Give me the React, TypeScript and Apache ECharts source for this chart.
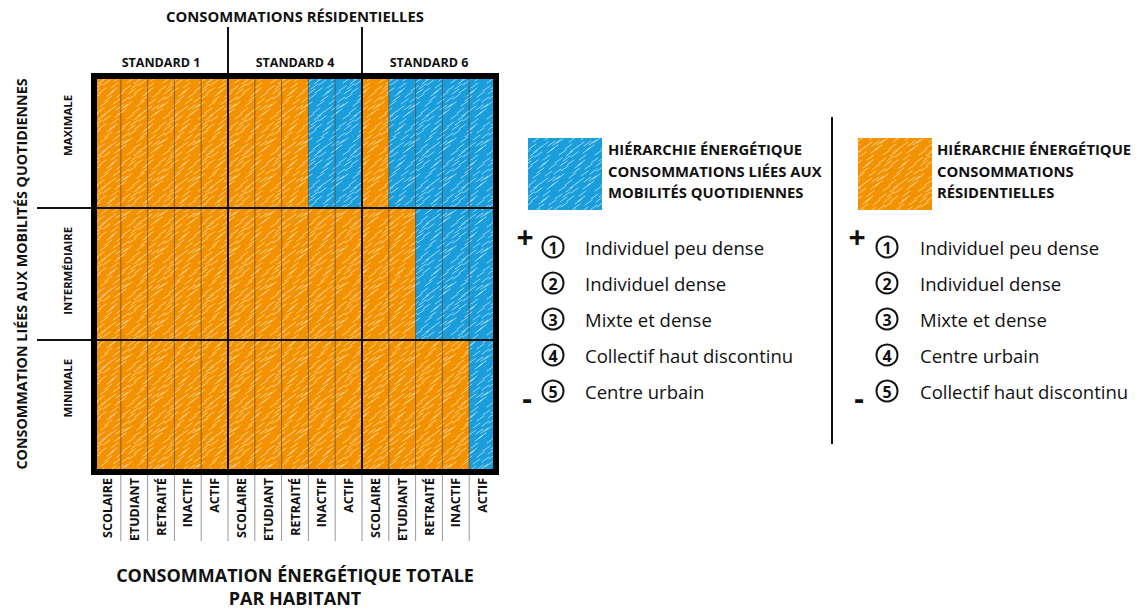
import React, { useEffect, useRef } from "react";
import * as echarts from "echarts";

// ---------- data ----------
const STANDARDS = ["STANDARD 1", "STANDARD 4", "STANDARD 6"];
const PROFILES = ["SCOLAIRE", "ETUDIANT", "RETRAITÉ", "INACTIF", "ACTIF"];
const LEVELS = ["MAXIMALE", "INTERMÉDIAIRE", "MINIMALE"];
// R = hiérarchie des consommations résidentielles (orange), M = mobilités quotidiennes (bleu)
const ROW_MAXIMALE = ["R", "R", "R", "R", "R", "R", "R", "R", "M", "M", "R", "M", "M", "M", "M"];
const ROW_INTERMEDIAIRE = ["R", "R", "R", "R", "R", "R", "R", "R", "R", "R", "R", "R", "M", "M", "M"];
const ROW_MINIMALE = ["R", "R", "R", "R", "R", "R", "R", "R", "R", "R", "R", "R", "R", "R", "M"];
const ROWS = [ROW_MAXIMALE, ROW_INTERMEDIAIRE, ROW_MINIMALE];

const MOBILITY_RANK = ["Individuel peu dense", "Individuel dense", "Mixte et dense", "Collectif haut discontinu", "Centre urbain"];
const RESIDENTIAL_RANK = ["Individuel peu dense", "Individuel dense", "Mixte et dense", "Centre urbain", "Collectif haut discontinu"];

const TOP_TITLE = "CONSOMMATIONS RÉSIDENTIELLES";
const LEFT_TITLE = "CONSOMMATION LIÉES AUX MOBILITÉS QUOTIDIENNES";
const BOTTOM_TITLE = "CONSOMMATION ÉNERGÉTIQUE TOTALE\nPAR HABITANT";
const LEGEND_MOBILITY_TITLE = ["HIÉRARCHIE ÉNERGÉTIQUE", "CONSOMMATIONS LIÉES AUX", "MOBILITÉS QUOTIDIENNES"];
const LEGEND_RESIDENTIAL_TITLE = ["HIÉRARCHIE ÉNERGÉTIQUE", "CONSOMMATIONS", "RÉSIDENTIELLES"];

const ORANGE = "#F39200";
const BLUE = "#1A9EDB";
const FONT = "'Open Sans', 'Noto Sans', sans-serif";

function makeHatch(base: string, alpha: number) {
  const S = 36;
  const c = document.createElement("canvas");
  c.width = S;
  c.height = S;
  const g = c.getContext("2d")!;
  g.fillStyle = base;
  g.fillRect(0, 0, S, S);
  g.strokeStyle = `rgba(255,255,255,${alpha})`;
  g.lineWidth = 1;
  g.lineCap = "round";
  const pts = [
    [1, 3], [13, 1], [25, 5], [7, 9], [19, 11], [31, 13], [3, 16], [15, 19], [27, 21],
    [9, 25], [21, 27], [33, 29], [5, 32], [17, 35], [29, 34], [11, 6], [23, 17], [35, 24],
    [2, 21], [14, 30], [26, 12], [8, 2], [30, 8], [20, 22],
  ];
  for (const [sx, sy] of pts) {
    for (const dx of [-S, 0, S]) {
      for (const dy of [-S, 0, S]) {
        g.beginPath();
        g.moveTo(sx + dx, sy + dy);
        g.lineTo(sx + dx + 7, sy + dy - 5);
        g.stroke();
      }
    }
  }
  return { image: c.toDataURL(), repeat: "repeat", imageWidth: S, imageHeight: S };
}

export default function App() {
  const ref = useRef<HTMLDivElement>(null);
  useEffect(() => {
    if (!ref.current) return;
    const chart = echarts.init(ref.current, undefined, { renderer: "svg" });
    const patR = makeHatch(ORANGE, 0.55);
    const patM = makeHatch(BLUE, 0.55);

    const xLabels = STANDARDS.flatMap(() => PROFILES);
    const cells: number[][] = [];
    ROWS.forEach((row, j) => row.forEach((v, i) => cells.push([i, j, v === "M" ? 1 : 0])));

    chart.setOption({
      animation: false,
      backgroundColor: "#ffffff",
      grid: { left: 94, top: 76, width: 402, height: 403 },
      xAxis: [
        {
          type: "category",
          data: xLabels,
          position: "bottom",
          axisLine: { show: false },
          axisTick: { show: false },
          splitLine: { show: false },
          axisLabel: {
            interval: 0,
            rotate: 90,
            margin: 6,
            fontFamily: FONT,
            fontWeight: "bold",
            fontSize: 12.5,
            color: "#111",
          },
          name: BOTTOM_TITLE,
          nameLocation: "middle",
          nameGap: 91,
          nameTextStyle: { fontFamily: FONT, fontWeight: "bold", fontSize: 18, color: "#111", lineHeight: 23 },
        },
        {
          type: "category",
          data: STANDARDS,
          position: "top",
          gridIndex: 0,
          axisLine: { show: false },
          axisTick: { show: false },
          splitLine: { show: false },
          axisLabel: { interval: 0, margin: 7, fontFamily: FONT, fontWeight: "bold", fontSize: 12.5, color: "#111" },
          name: TOP_TITLE,
          nameLocation: "middle",
          nameGap: 53,
          nameTextStyle: { fontFamily: FONT, fontWeight: "bold", fontSize: 14.8, color: "#111" },
        },
      ],
      yAxis: {
        type: "category",
        data: LEVELS,
        inverse: true,
        axisLine: { show: false },
        axisTick: { show: false },
        splitLine: { show: false },
        axisLabel: { show: false },
        name: LEFT_TITLE,
        nameLocation: "middle",
        nameRotate: 90,
        nameGap: 66,
        nameTextStyle: { fontFamily: FONT, fontWeight: "bold", fontSize: 14.3, color: "#111" },
      },
      series: [
        {
          type: "custom",
          xAxisIndex: 0,
          yAxisIndex: 0,
          data: cells,
          renderItem: (params: any, api: any) => {
            const p = api.coord([api.value(0), api.value(1)]);
            const s = api.size([1, 1]);
            return {
              type: "rect",
              shape: { x: p[0] - s[0] / 2, y: p[1] - s[1] / 2, width: s[0], height: s[1] },
              style: { fill: api.value(2) === 1 ? patM : patR },
            };
          },
        },
      ],
    });

    // structural lines derived from the axes' scales
    const x0 = chart.convertToPixel({ xAxisIndex: 0 }, 0) as number;
    const cw = (chart.convertToPixel({ xAxisIndex: 0 }, 1) as number) - x0;
    const y0 = chart.convertToPixel({ yAxisIndex: 0 }, 0) as number;
    const rh = (chart.convertToPixel({ yAxisIndex: 0 }, 1) as number) - y0;
    const nCols = xLabels.length;
    const nRows = LEVELS.length;
    const left = x0 - cw / 2;
    const right = left + nCols * cw;
    const top = y0 - rh / 2;
    const bottom = top + nRows * rh;
    const bx = (i: number) => left + i * cw;
    const by = (j: number) => top + j * rh;

    const els: any[] = [];
    const line = (x1: number, y1: number, x2: number, y2: number, stroke: string, w: number, z = 50) =>
      els.push({ type: "line", z, shape: { x1, y1, x2, y2 }, style: { stroke, lineWidth: w } });

    for (let i = 1; i < nCols; i++) {
      line(bx(i), bottom, bx(i), bottom + 69, "#9a9a9a", 1);
      if (i % PROFILES.length !== 0) line(bx(i), top, bx(i), bottom, "rgba(60,40,20,0.6)", 1);
    }
    for (let k = 1; k < STANDARDS.length; k++) {
      const x = bx(k * PROFILES.length);
      line(x, 27, x, bottom, "#111", 2, 60);
    }
    for (let j = 1; j < nRows; j++) line(37, by(j), right, by(j), "#111", 2, 60);
    els.push({
      type: "rect",
      z: 70,
      shape: { x: left, y: top, width: right - left, height: bottom - top },
      style: { fill: "none", stroke: "#000", lineWidth: 6 },
    });
    LEVELS.forEach((lv, j) => {
      els.push({
        type: "text",
        z: 70,
        x: 67,
        y: by(j) + 19,
        rotation: Math.PI / 2,
        style: { text: lv, fontFamily: FONT, fontWeight: "bold", fontSize: 11.3, fill: "#111", align: "right", verticalAlign: "middle" },
      });
    });

    // legends
    const legend = (sx: number, tx: number, cx: number, itemX: number, plusX: number, titles: string[], items: string[], pat: any) => {
      els.push({ type: "rect", z: 70, shape: { x: sx, y: 138, width: 74, height: 72 }, style: { fill: pat } });
      titles.forEach((t, k) =>
        els.push({
          type: "text",
          z: 70,
          x: tx,
          y: 149 + k * 21.5,
          style: { text: t, fontFamily: FONT, fontWeight: "bold", fontSize: 14.8, fill: "#111", verticalAlign: "middle" },
        })
      );
      items.forEach((t, k) => {
        const cy = 247 + k * 36;
        els.push({ type: "circle", z: 70, shape: { cx, cy, r: 10.5 }, style: { fill: "none", stroke: "#111", lineWidth: 2 } });
        els.push({
          type: "text",
          z: 70,
          x: cx,
          y: cy + 1,
          style: { text: String(k + 1), fontFamily: FONT, fontWeight: "bold", fontSize: 16, fill: "#111", align: "center", verticalAlign: "middle" },
        });
        els.push({
          type: "text",
          z: 70,
          x: itemX,
          y: cy,
          style: { text: t, fontFamily: FONT, fontSize: 18.5, fill: "#111", verticalAlign: "middle" },
        });
      });
      els.push({
        type: "text",
        z: 70,
        x: plusX,
        y: 236,
        style: { text: "+", fontFamily: FONT, fontWeight: "bold", fontSize: 30, fill: "#111", align: "center", verticalAlign: "middle" },
      });
      els.push({
        type: "text",
        z: 70,
        x: plusX + 2,
        y: 397,
        style: { text: "-", fontFamily: FONT, fontWeight: "bold", fontSize: 30, fill: "#111", align: "center", verticalAlign: "middle" },
      });
    };
    legend(528, 608, 553, 585, 525, LEGEND_MOBILITY_TITLE, MOBILITY_RANK, patM);
    legend(858, 937, 887, 920, 857, LEGEND_RESIDENTIAL_TITLE, RESIDENTIAL_RANK, patR);
    line(832, 117, 832, 444, "#111", 2, 70);

    chart.setOption({ graphic: els });

    return () => chart.dispose();
  }, []);

  return (
    <div
      ref={ref}
      style={{ position: "absolute", left: 0, top: 0, width: 1145, height: 614, background: "#fff" }}
    />
  );
}
